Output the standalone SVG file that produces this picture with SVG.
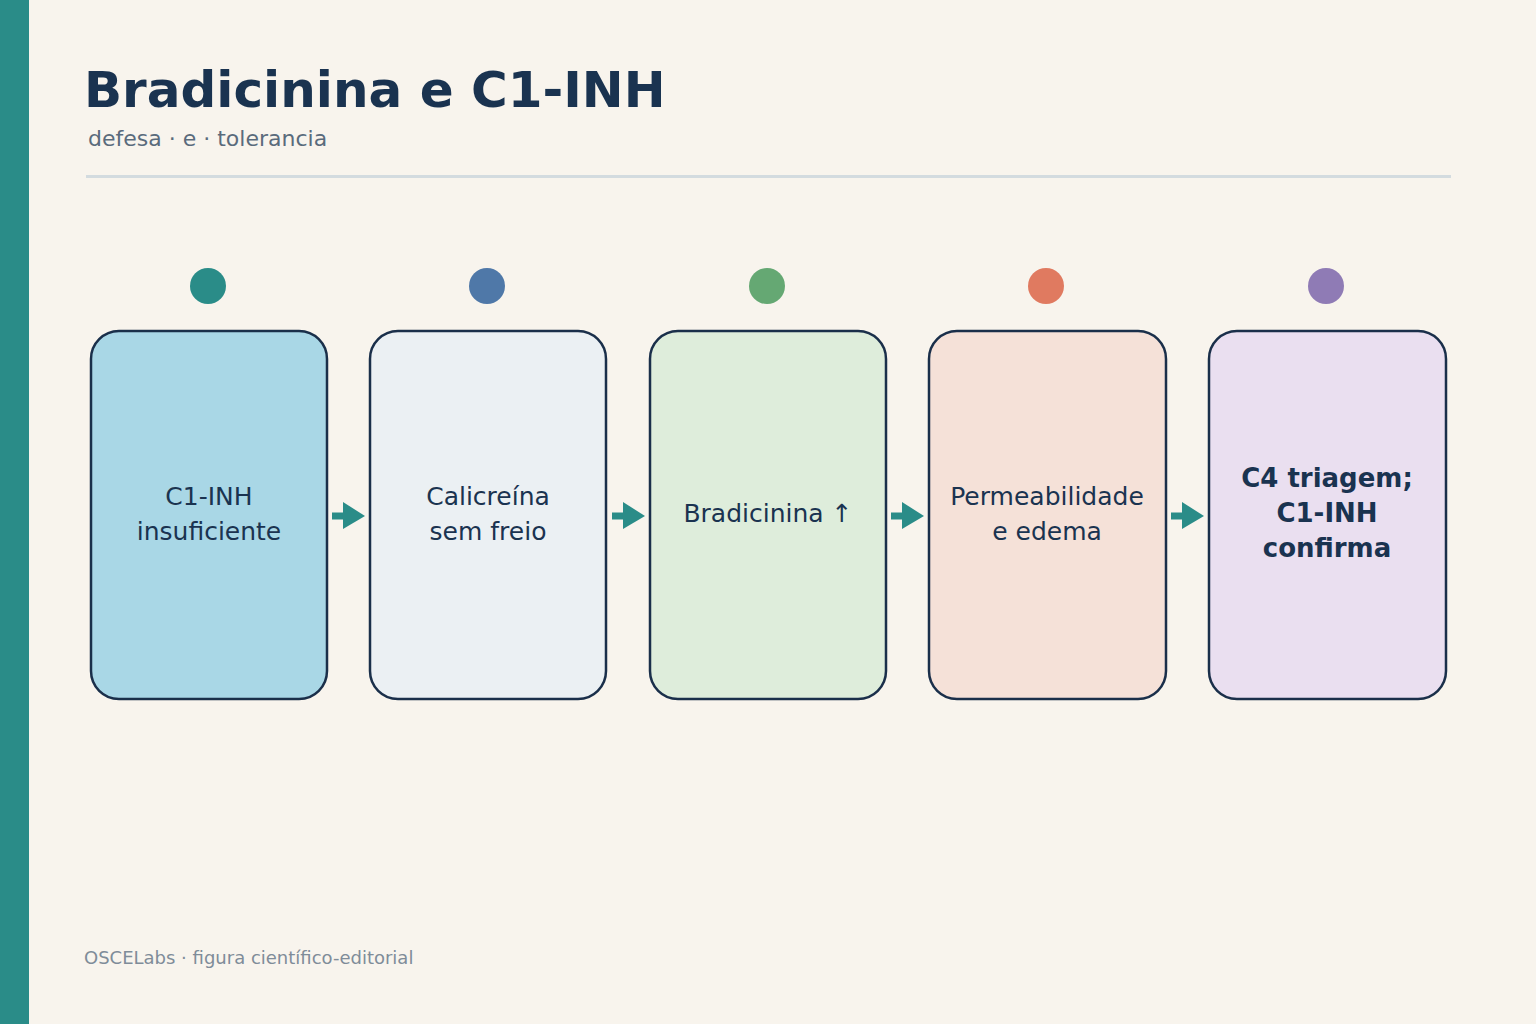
<svg xmlns="http://www.w3.org/2000/svg" width="1536" height="1024" viewBox="0 0 1536 1024">
<style>
.box{stroke:#1a2f4a;stroke-width:2.5}
.t{font-family:"DejaVu Sans",sans-serif;font-size:25px;fill:#1a3350;text-anchor:middle}
.b{font-weight:bold;font-size:26px}
.ar{stroke:#2a8c88;stroke-width:7;fill:none}
.ah{fill:#2a8c88}
</style>
<rect width="1536" height="1024" fill="#f8f4ed"/>
<rect width="29" height="1024" fill="#2a8c88"/>
<text x="84" y="107" font-family="DejaVu Sans,sans-serif" font-size="50" font-weight="bold" fill="#1a3350">Bradicinina e C1-INH</text>
<text x="88" y="146" font-family="DejaVu Sans,sans-serif" font-size="22" fill="#5a6b7c">defesa · e · tolerancia</text>
<line x1="86" y1="176.500" x2="1451" y2="176.500" stroke="#d3dbdf" stroke-width="3"/>
<g id="n1"><circle cx="208" cy="286" r="18" fill="#2a8c88"/><rect class="box" x="91" y="331" width="236" height="368" rx="28" fill="#a9d7e6"/><text class="t" x="209" y="505">C1-INH</text><text class="t" x="209" y="540">insuficiente</text></g>
<g id="n2"><circle cx="487" cy="286" r="18" fill="#4f78a8"/><rect class="box" x="370" y="331" width="236" height="368" rx="28" fill="#ebf0f3"/><text class="t" x="488" y="505">Calicreína</text><text class="t" x="488" y="540">sem freio</text></g>
<g id="n3"><circle cx="767" cy="286" r="18" fill="#65a873"/><rect class="box" x="650" y="331" width="236" height="368" rx="28" fill="#deeddb"/><text class="t" x="768" y="522">Bradicinina ↑</text></g>
<g id="n4"><circle cx="1046" cy="286" r="18" fill="#e07a60"/><rect class="box" x="929" y="331" width="237" height="368" rx="28" fill="#f5e1d8"/><text class="t" x="1047" y="505">Permeabilidade</text><text class="t" x="1047" y="540">e edema</text></g>
<g id="n5"><circle cx="1326" cy="286" r="18" fill="#8f7bb5"/><rect class="box" x="1209" y="331" width="237" height="368" rx="28" fill="#eadff0"/><text class="t b" x="1327" y="487">C4 triagem;</text><text class="t b" x="1327" y="522">C1-INH</text><text class="t b" x="1327" y="557">confirma</text></g>
<g id="connectors">
<line class="ar" x1="332" y1="516" x2="352" y2="516"/><polygon class="ah" points="343,502 365,516 343,529"/>
<line class="ar" x1="612" y1="516" x2="632" y2="516"/><polygon class="ah" points="623,502 645,516 623,529"/>
<line class="ar" x1="891" y1="516" x2="911" y2="516"/><polygon class="ah" points="902,502 924,516 902,529"/>
<line class="ar" x1="1171" y1="516" x2="1191" y2="516"/><polygon class="ah" points="1182,502 1204,516 1182,529"/>
</g>
<text x="84" y="964" font-family="DejaVu Sans,sans-serif" font-size="18" fill="#7f8c99">OSCELabs · figura científico-editorial</text>
</svg>
